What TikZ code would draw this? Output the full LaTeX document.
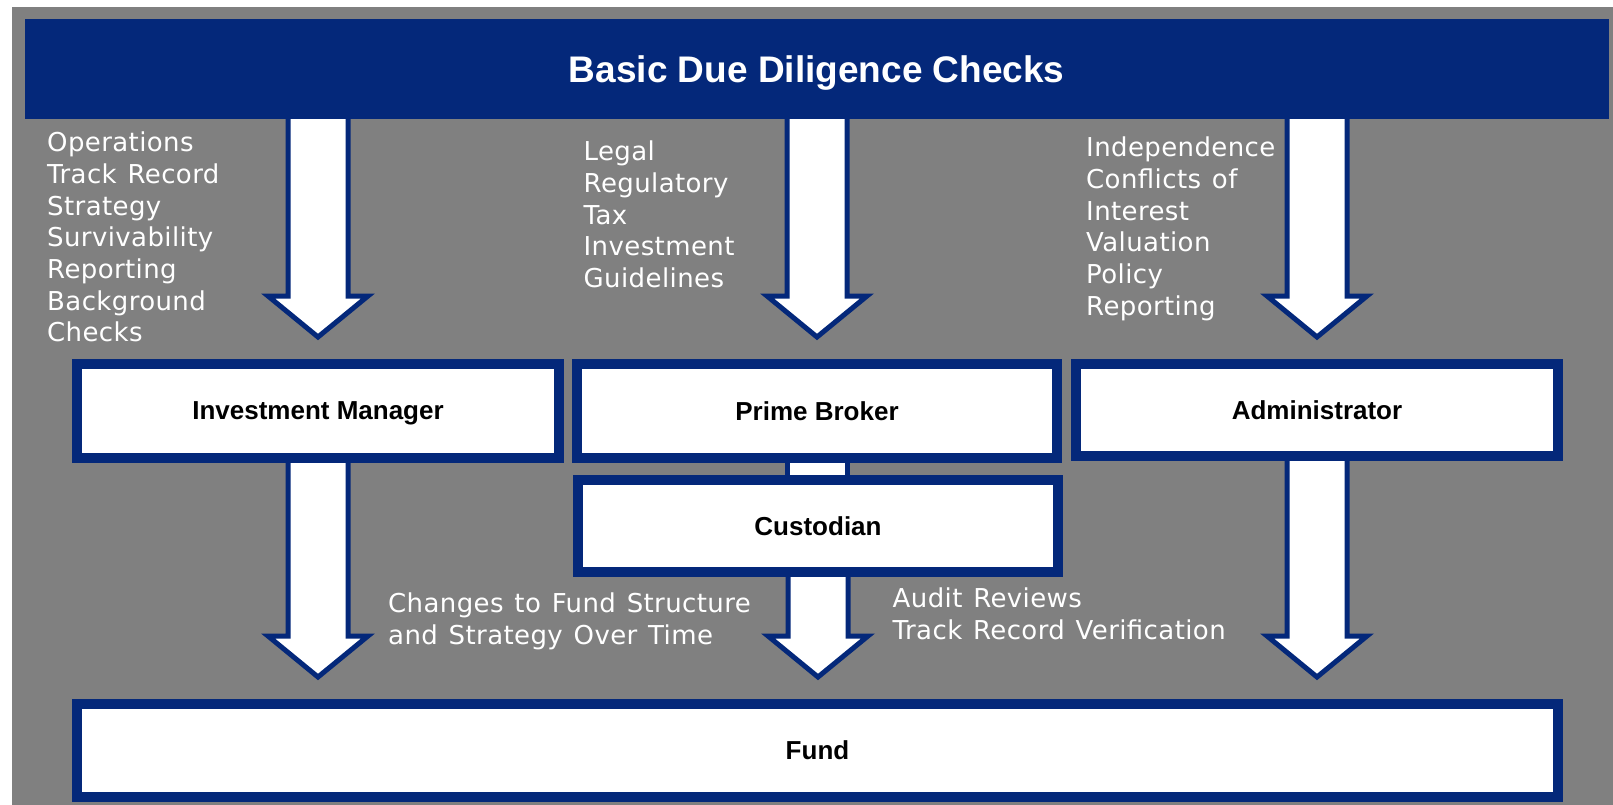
\documentclass[tikz,border=0pt]{standalone}
\usepackage{fontspec}
\usetikzlibrary{calc}
\newfontfamily\listfont{DejaVu Sans}[LetterSpace=1.5,WordSpace=1.25]
\newfontfamily\labelfont{Liberation Sans}
\definecolor{navy}{RGB}{4,40,122}
\definecolor{panel}{RGB}{128,128,128}
\pgfdeclarelayer{under}
\pgfsetlayers{under,main}

\tikzset{
  entity/.style={draw=navy, line width=10pt, fill=white, inner sep=0pt, text=black,
    text depth=0pt, font=\labelfont\bfseries\fontsize{26}{30}\selectfont},
  headerbar/.style={fill=navy, inner sep=0pt, text=white, text depth=0pt,
    font=\labelfont\bfseries\fontsize{37}{44}\selectfont},
  blockarrow/.style={draw=navy, line width=5pt, fill=white, line join=miter, miter limit=10},
  notes/.style={anchor=base west, inner sep=0pt, text=white,
    font=\listfont\fontsize{26}{31.7}\selectfont},
}
% left-aligned stack of lines whose baseline is the first line
\newcommand\itemstack[1]{\vtop{\halign{##\hfil\cr#1\crcr}}}
% hollow block arrow: shaft leaves point #1, tip stops 22pt above point #2
\newcommand\blockdown[2]{%
  \draw[blockarrow] let \p1=(#1), \p2=(#2) in
    (\x2-30pt,\y1+8pt) -- (\x2-30pt,\y2+63pt) -- (\x2-50pt,\y2+63pt) -- (\x2,\y2+22pt)
    -- (\x2+50pt,\y2+63pt) -- (\x2+30pt,\y2+63pt) -- (\x2+30pt,\y1+8pt) -- cycle;}

\begin{document}
\begin{tikzpicture}[x=1pt,y=-1pt]
\useasboundingbox (0,0) rectangle (1613,805);

% heading and parties
\node[headerbar, minimum width=1584.5pt, minimum height=100pt] (title) at (816.75,69.5) {Basic Due Diligence Checks};
\node[entity, minimum width=482pt, minimum height=94pt] (im)  at (318,411) {Investment Manager};
\node[entity, minimum width=480pt, minimum height=94pt] (pb)  at (817,411) {Prime Broker};
\node[entity, minimum width=482pt, minimum height=92pt] (adm) at (1317,410) {Administrator};
\node[entity, minimum width=480pt, minimum height=92pt] (cust) at (818,526) {Custodian};
\node[entity, minimum width=1481pt, minimum height=93pt] (fund) at (817.5,750.5) {Fund};

% check lists
\node[notes] (imnotes) at (47,151.7) {\itemstack{Operations\cr Track Record\cr Strategy\cr Survivability\cr Reporting\cr Background\cr Checks}};
\node[notes] (pbnotes) at (583.5,160.7) {\itemstack{Legal\cr Regulatory\cr Tax\cr Investment\cr Guidelines}};
\node[notes] (admnotes) at (1086,156.7) {\itemstack{Independence\cr Conflicts of\cr Interest\cr Valuation\cr Policy\cr Reporting}};
\node[notes] (fundnotes) at (388,612.3) {\itemstack{Changes to Fund Structure\cr and Strategy Over Time}};
\node[notes] (auditnotes) at (892.5,607.3) {\itemstack{Audit Reviews\cr Track Record Verification}};

\begin{pgfonlayer}{under}
  \fill[white] (0,0) rectangle (1613,805);
  \fill[panel] (12,7) rectangle (1613,805);
  % arrows from the heading down to each party
  \blockdown{title.south -| im}{im.north}
  \blockdown{title.south -| pb}{pb.north}
  \blockdown{title.south -| adm}{adm.north}
  % link between prime broker and custodian
  \draw[blockarrow] let \p1=(pb.south), \p2=(cust.north) in
    (\x1-30pt,\y1+8pt) rectangle (\x1+30pt,\y2-8pt);
  % arrows from the parties down to the fund
  \blockdown{im.south}{fund.north -| im}
  \blockdown{cust.south}{fund.north -| cust}
  \blockdown{adm.south}{fund.north -| adm}
\end{pgfonlayer}
\end{tikzpicture}
\end{document}
